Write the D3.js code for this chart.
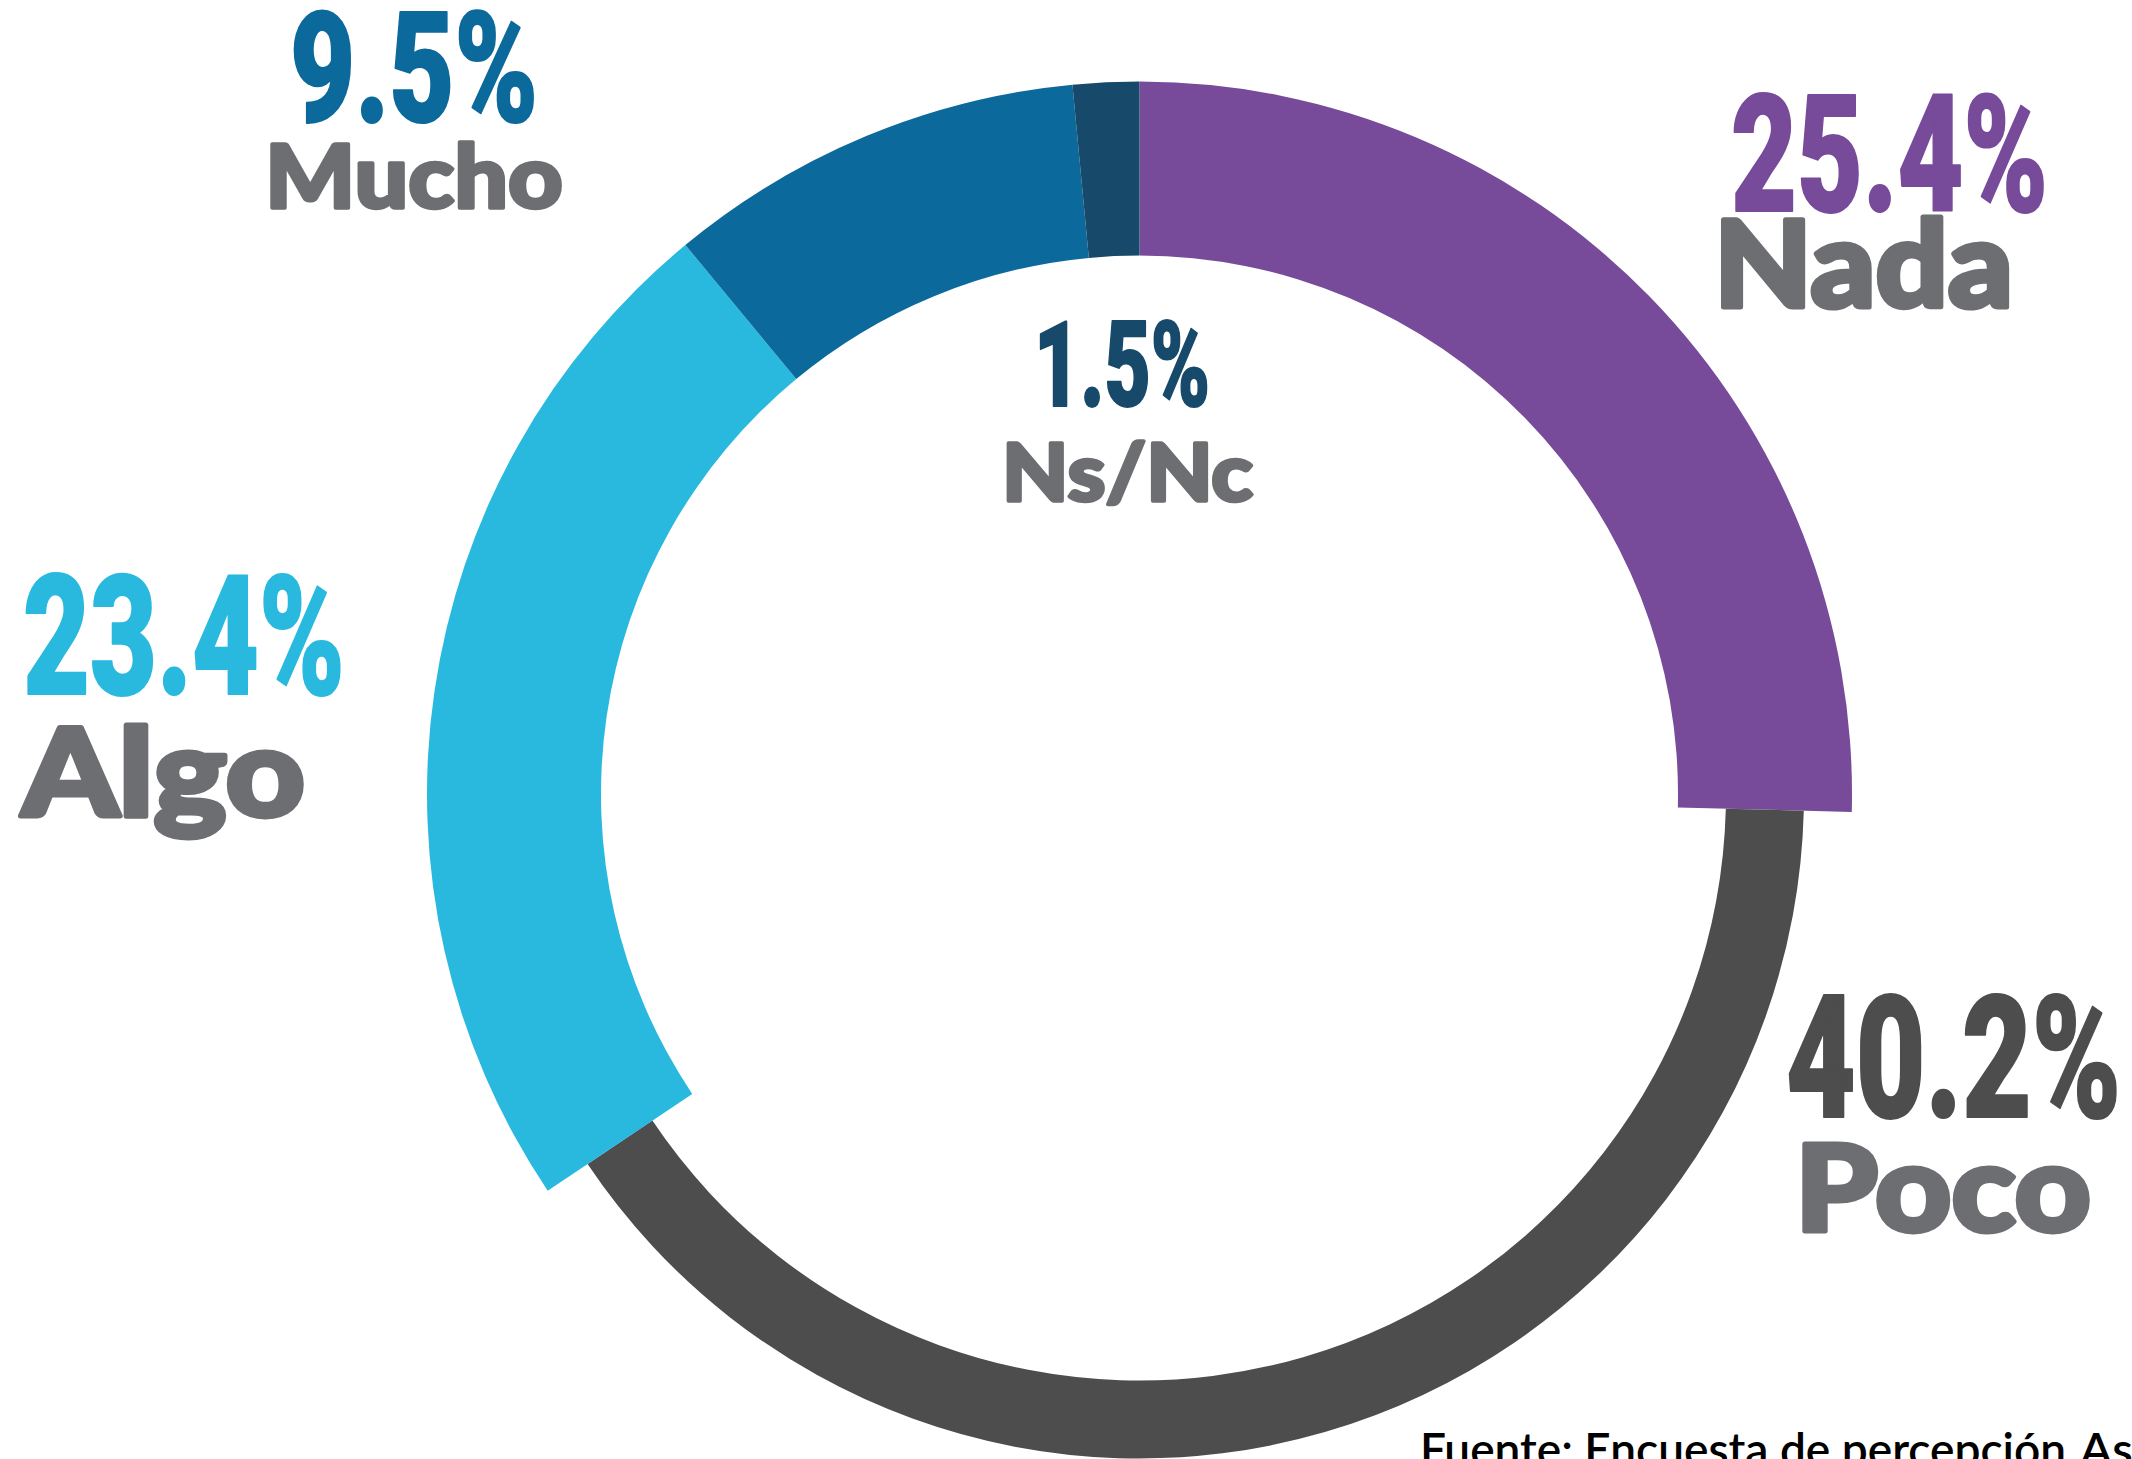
<!DOCTYPE html>
<html>
<head>
<meta charset="utf-8">
<script src="https://cdn.jsdelivr.net/npm/d3@7"></script>
<style>
  html, body { margin: 0; padding: 0; background: #ffffff; overflow: hidden; }
  svg { display: block; }
</style>
</head>
<body>
<svg id="chart" width="2132" height="1459"></svg>
<script>
// ---- data ----
const categories = ["Nada", "Poco", "Algo", "Mucho", "Ns/Nc"];
const values = [25.4, 40.2, 23.4, 9.5, 1.5];
const valueLabels = ["25.4%", "40.2%", "23.4%", "9.5%", "1.5%"];
const sourceLead = "Fuente: Encuesta de percepción";
const sourceTail = "Asociación";

// ---- styles ----
const colors = d3.scaleOrdinal()
  .domain(categories)
  .range(["#774a9a", "#4d4d4d", "#29b9df", "#0b6a9b", "#17496b"]);
const labelGray = "#6d6e71";

const cx = 1139.5, cy = 794;
const ringWide = { inner: 538.5, outer: 712.5 };
const ringThin = { inner: 586.5, outer: 664.5 };

const svg = d3.select("#chart");

const pie = d3.pie().sort(null).value(d => d.value)
  .startAngle(0).endAngle(2 * Math.PI);

const rows = categories.map((c, i) => ({ cat: c, value: values[i], label: valueLabels[i] }));
const arcsData = pie(rows);

const g = svg.append("g").attr("transform", `translate(${cx},${cy})`);

g.selectAll("path.slice")
  .data(arcsData)
  .join("path")
  .attr("class", "slice")
  .attr("fill", d => colors(d.data.cat))
  .attr("d", d => {
    const r = d.data.cat === "Poco" ? ringThin : ringWide;
    return d3.arc().innerRadius(r.inner).outerRadius(r.outer)(d);
  });

// ---- label layout (left x, right x, baseline y, font size) ----
const layout = {
  "Nada":  { pct: [1731, 2048, 211, 163], name: [1714, 2013, 307, 120] },
  "Poco":  { pct: [1786, 2121, 1117, 171], name: [1795, 2091, 1231, 121] },
  "Algo":  { pct: [23, 345, 694, 167],     name: [22, 305, 816, 122] },
  "Mucho": { pct: [290, 538, 122, 154],    name: [265, 563, 208, 87] },
  "Ns/Nc": { pct: [1034, 1210, 406, 118],  name: [1002, 1253, 501, 80] }
};

const labels = svg.append("g").attr("class", "labels")
  .attr("stroke-linejoin", "round");

rows.forEach(r => {
  const L = layout[r.cat];
  const p = L.pct, n = L.name;
  labels.append("text")
    .attr("x", p[0]).attr("y", p[2])
    .attr("textLength", p[1] - p[0])
    .attr("lengthAdjust", "spacingAndGlyphs")
    .style("font-family", "Roboto, 'Liberation Sans', sans-serif")
    .style("font-weight", 900)
    .style("font-size", p[3] + "px")
    .attr("fill", colors(r.cat))
    .attr("stroke", colors(r.cat))
    .attr("stroke-width", 2)
    .text(r.label);
  labels.append("text")
    .attr("x", n[0]).attr("y", n[2])
    .attr("textLength", n[1] - n[0])
    .attr("lengthAdjust", "spacingAndGlyphs")
    .style("font-family", "Lato, 'Open Sans', sans-serif")
    .style("font-weight", 900)
    .style("font-size", n[3] + "px")
    .attr("fill", labelGray)
    .attr("stroke", labelGray)
    .attr("stroke-width", n[3] > 100 ? 5 : 3.5)
    .text(r.cat);
});

const src = svg.append("g").attr("class", "source")
  .style("font-family", "Lato, 'Open Sans', sans-serif")
  .style("font-weight", 600)
  .style("font-size", "47px")
  .attr("fill", "#000000");
src.append("text")
  .attr("x", 1420).attr("y", 1466)
  .attr("textLength", 2066 - 1420)
  .attr("lengthAdjust", "spacingAndGlyphs")
  .text(sourceLead);
src.append("text")
  .attr("x", 2080).attr("y", 1466)
  .text(sourceTail);
</script>
</body>
</html>
